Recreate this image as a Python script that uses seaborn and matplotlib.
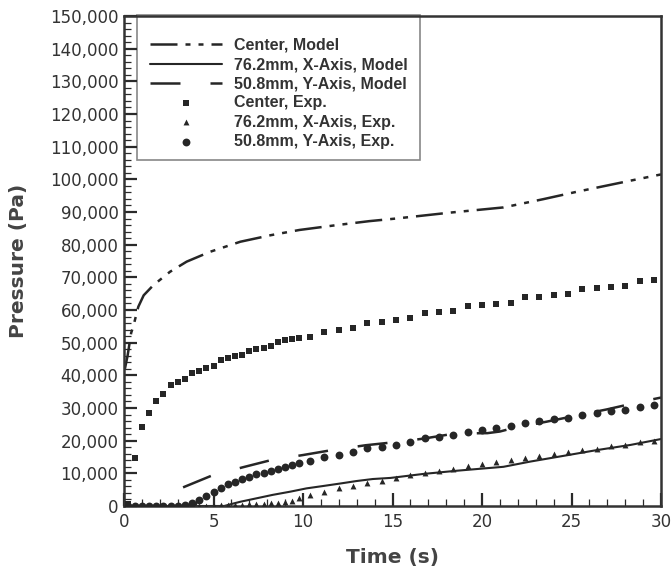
import numpy as np
import pandas as pd
import matplotlib
matplotlib.use("Agg")
import matplotlib.pyplot as plt
from matplotlib.ticker import MultipleLocator, FuncFormatter
from matplotlib.patches import Rectangle
import seaborn as sns

# ---------------- data ----------------
center_model_t = [0.05, 0.2, 0.4, 0.52, 0.8, 1.1, 1.64, 2.57, 3.5, 4.8, 6.5, 8.2, 9.8,
                  11.9, 13.7, 15.2, 18.2, 21.2, 23.4, 25.3, 26.8, 28.3, 30.0]
center_model_p = [42000, 46000, 53000, 55000, 61000, 64500, 67600, 71700, 74800, 77800,
                  80900, 82900, 84500, 86000, 87200, 88000, 89800, 91400, 93900, 96200,
                  97900, 99600, 101500]

x_model_t = [0, 5.6, 6.0, 6.5, 7.4, 8.3, 9.3, 10.2, 11.1, 12.1, 13.0, 13.9, 14.9, 16.7,
             18.6, 21.2, 22.7, 24.5, 26.4, 28.3, 30.0]
x_model_p = [0, 0, 600, 1300, 2350, 3400, 4400, 5400, 6100, 6900, 7650, 8260, 8600, 9800,
             10800, 12000, 13600, 15300, 17100, 18700, 20500]

y_model_t = [3.3, 4.9, 6.6, 8.25, 10.0, 11.6, 13.5, 15.4, 16.7, 18.5, 20.3, 21.0, 21.7,
             23.6, 25.2, 27.0, 28.6, 30.0]
y_model_p = [5700, 9300, 11800, 14100, 15600, 17100, 18600, 19700, 20600, 22200, 22300,
             22800, 23800, 25800, 27600, 29600, 31600, 33200]

exp_t = [0.2, 0.6, 1.0, 1.4, 1.8, 2.2, 2.6, 3.0, 3.4, 3.8, 4.2, 4.6, 5.0, 5.4, 5.8, 6.2,
         6.6, 7.0, 7.4, 7.8, 8.2, 8.6, 9.0, 9.4, 9.8,
         10.4, 11.2, 12.0, 12.8, 13.6, 14.4, 15.2, 16.0, 16.8, 17.6, 18.4, 19.2, 20.0,
         20.8, 21.6, 22.4, 23.2, 24.0, 24.8, 25.6, 26.4, 27.2, 28.0, 28.8, 29.6]
center_exp_p = [500, 14600, 24100, 28400, 32200, 34300, 36900, 38000, 39000, 40800, 41400,
                42100, 42900, 44700, 45200, 45800, 46200, 47500, 48000, 48400, 49000,
                50100, 50800, 51000, 51300,
                51800, 53300, 53900, 54400, 56100, 56400, 56900, 57600, 59000, 59300,
                59600, 61200, 61500, 61800, 62100, 63900, 64100, 64500, 64900, 66500,
                66700, 67000, 67300, 68900, 69100]
x_exp_p = [0, 0, 0, 0, 0, 0, 0, 0, 0, 0, 0, 0, 100, 200, 300, 300, 400, 500, 600, 700,
           800, 1000, 1200, 1600, 2300,
           3300, 4400, 5400, 6100, 7100, 7750, 8600, 9500, 10200, 10800, 11400, 12200,
           12900, 13400, 14100, 14800, 15300, 15900, 16400, 17100, 17600, 18400, 18800,
           19600, 20000]
y_exp_p = [0, 0, 0, 0, 0, 0, 0, 0, 300, 1000, 1800, 3060, 4400, 5600, 6600, 7450, 8160,
           9000, 9700, 10200, 10700, 11300, 11800, 12400, 13100,
           13800, 14900, 15600, 16400, 17700, 18200, 18800, 19700, 20700, 21200, 21700,
           22700, 23200, 24000, 24500, 25500, 26000, 26500, 27000, 28000, 28600, 29100,
           29400, 30200, 30800]

labels = ["Center, Model", "76.2mm, X-Axis, Model", "50.8mm, Y-Axis, Model",
          "Center, Exp.", "76.2mm, X-Axis, Exp.", "50.8mm, Y-Axis, Exp."]

x_ticks = [0, 5, 10, 15, 20, 25, 30]
y_ticks = list(range(0, 150001, 10000))

# ---------------- style ----------------
sns.set_theme(style="ticks")
plt.rcParams["font.family"] = ["DejaVu Sans"]
ink = "#262626"
tickc = "#2a2a2a"

W, H = 672, 571
fig = plt.figure(figsize=(W / 100, H / 100), dpi=100)
ax = fig.add_axes([124 / W, 65 / H, 537 / W, 490 / H])

lw = 1.8
sns.lineplot(x=center_model_t, y=center_model_p, ax=ax, color=ink, lw=lw,
             label=labels[0], estimator=None, sort=False)
ax.lines[-1].set_linestyle((0, (10.8, 3.2, 2.0, 3.2, 2.0, 3.2)))
sns.lineplot(x=x_model_t, y=x_model_p, ax=ax, color=ink, lw=1.5,
             label=labels[1], estimator=None, sort=False)
sns.lineplot(x=y_model_t, y=y_model_p, ax=ax, color=ink, lw=lw,
             label=labels[2], estimator=None, sort=False)
ax.lines[-1].set_linestyle((0, (12, 12)))

sns.scatterplot(x=exp_t, y=center_exp_p, ax=ax, marker="s", s=18, color=ink,
                edgecolor=ink, linewidth=0, label=labels[3], zorder=3)
sns.scatterplot(x=exp_t, y=x_exp_p, ax=ax, marker="^", s=18, color=ink,
                edgecolor=ink, linewidth=0, label=labels[4], zorder=3)
sns.scatterplot(x=exp_t, y=y_exp_p, ax=ax, marker="o", s=32, color=ink,
                edgecolor=ink, linewidth=0, label=labels[5], zorder=3)

for ln in ax.lines:
    ln.set_dash_capstyle("butt")

ax.set_xlim(0, 30)
ax.set_ylim(0, 150000)
ax.set_xticks(x_ticks)
ax.set_yticks(y_ticks)
ax.xaxis.set_minor_locator(MultipleLocator(1))
ax.yaxis.set_minor_locator(MultipleLocator(2000))
ax.yaxis.set_major_formatter(FuncFormatter(lambda v, p: f"{int(v):,}"))

ax.tick_params(which="both", direction="in", color=tickc,
               top=False, right=False, bottom=True, left=True)
ax.tick_params(which="major", length=9.5, width=1.6, labelsize=12, labelcolor="#333333")
ax.tick_params(which="minor", length=5, width=0.9)
ax.tick_params(axis="x", which="major", pad=5)
ax.tick_params(axis="y", which="major", pad=4)
for s in ax.spines.values():
    s.set_linewidth(1.8)
    s.set_color("#333333")

ax.set_xlabel("Time (s)", fontsize=14.5, fontweight="bold", color="#444444", labelpad=12)
ax.set_ylabel("Pressure (Pa)", fontsize=14.5, fontweight="bold", color="#444444", labelpad=16)

handles, labs = ax.get_legend_handles_labels()
order = [labs.index(l) for l in labels]
leg = ax.legend([handles[i] for i in order], [labs[i] for i in order],
                loc="upper left", bbox_to_anchor=(150 / W, (H - 38) / H),
                bbox_transform=fig.transFigure, borderaxespad=0, borderpad=0,
                frameon=False,
                prop={"family": "Liberation Sans", "weight": "bold", "size": 11.5},
                handlelength=4.5, handletextpad=0.75, labelspacing=0.26)
for t in leg.get_texts():
    t.set_color("#333333")

frame = Rectangle((137 / W, (H - 160) / H), (420 - 137) / W, (160 - 15) / H,
                  transform=fig.transFigure, fill=True, facecolor="white",
                  edgecolor="#888888", lw=1.2, zorder=1)
fig.patches.append(frame)
ax.set_zorder(2)
ax.patch.set_alpha(0)

fig.savefig("out.png", dpi=100)
